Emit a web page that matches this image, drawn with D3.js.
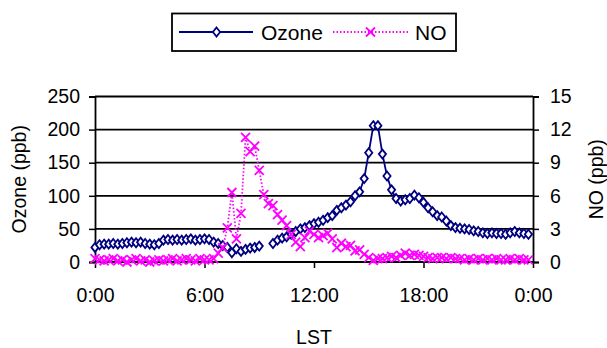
<!DOCTYPE html>
<html><head><meta charset="utf-8">
<script src="https://cdn.jsdelivr.net/npm/d3@7"></script>
<style>body{margin:0;background:#fff}svg{display:block}text{font-family:"Liberation Sans",Arial,sans-serif;fill:#000}</style>
</head><body><svg id="c" width="607" height="348"></svg>
<script>
// 15-minute data, hours 0:00 .. 23:45
const ozone = [22,26,27,27,28,27,28,29,30,29,30,28,27,26,28,33,
  34,33,34,33,34,35,33,34,35,34,30,28,25,22,14,20,
  16,19,21,22,24,null,null,28,33,36,38,42,46,50,52,55,
  58,60,63,67,70,78,82,86,91,100,106,126,165,206,206,163,
  130,109,96,92,94,96,101,97,90,82,76,70,68,62,55,52,
  51,50,49,47,46,44,43,44,43,43,42,44,46,44,43,42];
const no = [0.3,0.2,0.1,0.2,0.3,0.1,0.2,0.0,0.2,0.3,0.1,0.2,0.0,0.1,0.2,0.1,
  0.2,0.3,0.1,0.2,0.3,0.2,0.1,0.3,0.2,0.2,0.3,0.8,1.3,3.1,6.3,2.1,
  4.4,11.3,10.0,10.5,8.3,6.1,5.3,5.1,4.3,3.8,3.3,2.5,1.8,1.4,2.2,2.8,
  2.5,2.2,2.4,2.6,2.1,1.3,1.7,1.4,1.5,1.0,1.1,0.7,0.4,0.15,0.3,0.3,
  0.4,0.5,0.4,0.6,0.8,0.6,0.7,0.6,0.5,0.4,0.3,0.4,0.4,0.3,0.4,0.3,
  0.3,0.2,0.3,0.2,0.3,0.2,0.3,0.2,0.3,0.2,0.2,0.3,0.2,0.3,0.2,0.2];
const hours = ozone.map((d,i)=>i*0.25);
const xTicks = [0,6,12,18,24];
const xTickLabels = ["0:00","6:00","12:00","18:00","0:00"];
const ozTicks = [0,50,100,150,200,250];
const noTicks = [0,3,6,9,12,15];

const svg = d3.select("#c");
const L=95,R=533,T=96.5,B=262;
const x = d3.scaleLinear().domain([0,24]).range([L,R]);
const yO = d3.scaleLinear().domain([0,250]).range([B,T]);
const yN = d3.scaleLinear().domain([0,15]).range([B,T]);
const FS = 19.5;

// gridlines
svg.append("g").selectAll("line").data(ozTicks.slice(1)).join("line")
  .attr("x1",L).attr("x2",R).attr("y1",d=>yO(d)).attr("y2",d=>yO(d))
  .attr("stroke","#000").attr("stroke-width",1.8);

// axes
const ax = svg.append("g").attr("transform",`translate(0,${B})`)
  .call(d3.axisBottom(x).tickValues(xTicks).tickFormat((d,i)=>xTickLabels[i]).tickSize(6).tickPadding(20));
const ayl = svg.append("g").attr("transform",`translate(${L},0)`)
  .call(d3.axisLeft(yO).tickValues(ozTicks).tickSize(6).tickPadding(9));
const ayr = svg.append("g").attr("transform",`translate(${R},0)`)
  .call(d3.axisRight(yN).tickValues(noTicks).tickSize(6).tickPadding(11));
[ax,ayl,ayr].forEach(g=>{
  g.select(".domain").attr("stroke","#000").attr("stroke-width",1.8);
  g.selectAll(".tick line").attr("stroke","#000").attr("stroke-width",1.5);
  g.selectAll("text").attr("font-size",FS).attr("font-family",'"Liberation Sans",Arial,sans-serif').attr("fill","#000");
});
ax.select(".domain").attr("d",`M${L},0H${R}`);

// titles
svg.append("text").attr("x",x(12)).attr("y",344).attr("text-anchor","middle").attr("font-size",FS).text("LST");
svg.append("text").attr("transform",`translate(26,${(T+B)/2}) rotate(-90)`).attr("text-anchor","middle").attr("font-size",FS).text("Ozone (ppb)");
svg.append("text").attr("transform",`translate(603,${(T+B)/2}) rotate(-90)`).attr("text-anchor","middle").attr("font-size",FS).text("NO (ppb)");

const OZC="#000080", NOC="#FF00FF";
const diamond = "M0,-4.5L3.6,0L0,4.5L-3.6,0Z";
const cross = "M-4.5,-4.5L4.5,4.5M-4.5,4.5L4.5,-4.5";

// ozone
svg.append("path").datum(ozone.map((v,i)=>[hours[i],v]))
  .attr("fill","none").attr("stroke",OZC).attr("stroke-width",1.8)
  .attr("d",d3.line().defined(d=>d[1]!=null).x(d=>x(d[0])).y(d=>yO(d[1])));
svg.append("g").selectAll("path").data(ozone.map((v,i)=>[hours[i],v]).filter(d=>d[1]!=null)).join("path")
  .attr("transform",d=>`translate(${x(d[0])},${yO(d[1])})`).attr("d",diamond)
  .attr("fill","#fff").attr("stroke",OZC).attr("stroke-width",1.8);

// NO
svg.append("path").datum(no.map((v,i)=>[hours[i],v]))
  .attr("fill","none").attr("stroke",NOC).attr("stroke-width",1.8).attr("stroke-dasharray","1.5,2")
  .attr("d",d3.line().x(d=>x(d[0])).y(d=>yN(d[1])));
svg.append("g").selectAll("path").data(no.map((v,i)=>[hours[i],v])).join("path")
  .attr("transform",d=>`translate(${x(d[0])},${yN(d[1])})`).attr("d",cross)
  .attr("fill","none").attr("stroke",NOC).attr("stroke-width",1.8);

// legend
const lg = svg.append("g");
lg.append("rect").attr("x",172).attr("y",13.5).attr("width",284).attr("height",37.5)
  .attr("fill","#fff").attr("stroke","#000").attr("stroke-width",1.8);
lg.append("line").attr("x1",179).attr("x2",253).attr("y1",32).attr("y2",32).attr("stroke",OZC).attr("stroke-width",1.8);
lg.append("path").attr("transform","translate(216.5,32)").attr("d",diamond).attr("fill","#fff").attr("stroke",OZC).attr("stroke-width",1.8);
lg.append("text").attr("x",261).attr("y",39.5).attr("font-size",21).text("Ozone");
lg.append("line").attr("x1",333).attr("x2",408).attr("y1",32).attr("y2",32).attr("stroke",NOC).attr("stroke-width",1.8).attr("stroke-dasharray","1.5,2");
lg.append("path").attr("transform","translate(370.5,32)").attr("d",cross).attr("fill","none").attr("stroke",NOC).attr("stroke-width",1.8);
lg.append("text").attr("x",415).attr("y",39.5).attr("font-size",21).text("NO");
</script></body></html>
